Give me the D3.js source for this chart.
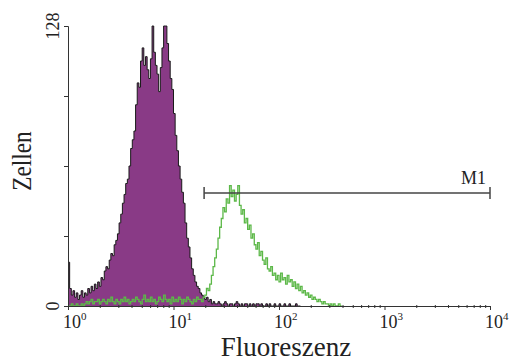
<!DOCTYPE html>
<html>
<head>
<meta charset="utf-8">
<script src="https://cdn.jsdelivr.net/npm/d3@7"></script>
<style>
body { margin: 0; background: #fff; }
text { font-family: "Liberation Serif", "Times New Roman", serif; fill: #222; }
</style>
</head>
<body>
<div id="chart"></div>
<script>
var width = 513,
height = 361;

// counts per channel (256 channels over 4 decades)
var purpleCounts = [
	20,8,5,7,4,6,3,5,7,4,
	6,5,8,6,9,7,10,8,11,9,
	13,12,16,18,17,21,24,23,28,30,
	33,38,42,47,51,56,58,64,72,76,
	80,92,102,100,112,118,110,114,108,104,
	113,128,116,110,106,98,109,118,128,128,
	120,112,104,99,88,78,71,64,58,52,
	47,38,31,27,22,17,14,11,9,8,
	6,5,4,3,4,2,3,1,2,1,
	1,2,1,0,1,2,1,0,1,1,
	0,1,2,1,0,1,0,1,1,0,
	1,0,1,0,1,1,0,1,0,0,
	1,0,1,0,0,1,0,0,1,0,
	0,1,0,0,1,0,0,0,1,0,0
];

var greenCounts = [
	0,0,1,0,0,1,0,0,1,0,
	1,2,1,2,3,1,2,2,3,1,
	2,3,2,1,3,2,4,2,1,3,
	2,1,3,2,4,2,3,1,2,3,
	2,4,3,2,1,3,5,2,3,2,
	4,2,3,1,2,4,3,2,5,3,
	2,3,1,4,2,3,2,4,3,1,
	3,2,4,3,2,1,3,2,4,3,
	3,2,4,5,8,7,10,14,18,22,
	26,31,36,40,45,43,49,47,55,50,
	53,48,51,55,46,42,44,38,40,35,
	37,31,33,28,26,29,23,25,21,19,
	22,17,16,18,14,15,12,14,11,15,
	12,13,10,14,11,12,9,11,8,10,
	7,9,6,7,5,6,4,5,3,4,
	3,2,3,2,1,2,1,1,0,1,
	0,1,0,0,1,0
];

var channelsTotal = 256;
var yTicks = [0, 32, 64, 96, 128];
var yLabels = ["0", "128"];
var xDecades = [1, 10, 100, 1000, 10000];
var xExponents = ["0", "1", "2", "3", "4"];
var markerRange = [19.5, 10000];
var markerLabel = "M1";

var svg = d3.select("#chart")
.append("svg")
.attr("width", width)
.attr("height", height);

var xScale = d3.scaleLog()
.domain([1, 10000])
.range([68, 490]);

var yScale = d3.scaleLinear()
.domain([0, 128])
.range([306, 26]);

// channel number -> fluorescence value
var chanScale = d3.scaleLinear()
.domain([0, channelsTotal])
.range([0, 4]);

function chanValue(c) {
	return Math.pow(10, chanScale(c));
}

function toPoints(counts) {
	var pts = counts.map(function(v, i) { return { c: i, v: v }; });
	pts.push({ c: counts.length, v: counts[counts.length - 1] });
	return pts;
}

var purplePts = toPoints(purpleCounts);
var greenPts = toPoints(greenCounts);

var area = d3.area()
.curve(d3.curveStepAfter)
.x(function(d) { return xScale(chanValue(d.c)); })
.y0(yScale(0))
.y1(function(d) { return yScale(d.v); });

var line = d3.line()
.curve(d3.curveStepAfter)
.x(function(d) { return xScale(chanValue(d.c)); })
.y(function(d) { return yScale(d.v); });

svg.append("path")
.datum(purplePts)
.attr("d", area)
.attr("fill", "#893a86");

svg.append("path")
.datum(purplePts)
.attr("d", line)
.attr("fill", "none")
.attr("stroke", "#1a1a1a")
.attr("stroke-width", 1);

svg.append("path")
.datum(greenPts)
.attr("d", line)
.attr("fill", "none")
.attr("stroke", "#5cb848")
.attr("stroke-width", 1.3);

// y axis
var yAxis = d3.axisLeft(yScale)
.tickValues(yTicks)
.tickSize(4)
.tickFormat("");

svg.append("g")
.attr("transform", "translate(68,0)")
.call(yAxis)
.call(function(g) { g.selectAll("path, line").attr("stroke", "#333"); });

svg.selectAll(".ylab")
.data(yLabels)
.enter()
.append("text")
.attr("class", "ylab")
.attr("transform", function(d) {
	return "translate(59," + yScale(+d) + ") rotate(-90)";
})
.attr("text-anchor", "middle")
.attr("font-size", "18px")
.text(function(d) { return d; });

// x axis: minor ticks then decades
var minorTicks = [];
xDecades.slice(0, -1).forEach(function(d) {
	for (var k = 2; k < 10; k++) minorTicks.push(d * k);
});

svg.append("g")
.attr("transform", "translate(0,306)")
.call(d3.axisBottom(xScale).tickValues(xDecades).tickSize(4).tickFormat(""))
.call(function(g) { g.selectAll("path, line").attr("stroke", "#333"); });

svg.append("g")
.attr("transform", "translate(0,306)")
.call(d3.axisBottom(xScale).tickValues(minorTicks).tickSize(2).tickFormat(""))
.call(function(g) {
	g.select(".domain").remove();
	g.selectAll("line").attr("stroke", "#333").attr("y1", -1);
});

var xlab = svg.selectAll(".xlab")
.data(xDecades)
.enter()
.append("text")
.attr("class", "xlab")
.attr("x", function(d) { return xScale(d) - 5; })
.attr("y", 328)
.attr("font-size", "18px");

xlab.append("tspan").text("10");
xlab.append("tspan")
.attr("dy", -8)
.attr("font-size", "11px")
.text(function(d, i) { return xExponents[i]; });

// marker M1
var my = 193;
svg.append("line")
.attr("x1", xScale(markerRange[0]))
.attr("x2", xScale(markerRange[1]))
.attr("y1", my)
.attr("y2", my)
.attr("stroke", "#444")
.attr("stroke-width", 1.5);

svg.selectAll(".cap")
.data(markerRange)
.enter()
.append("line")
.attr("class", "cap")
.attr("x1", function(d) { return xScale(d); })
.attr("x2", function(d) { return xScale(d); })
.attr("y1", my - 6)
.attr("y2", my + 6)
.attr("stroke", "#444")
.attr("stroke-width", 1.5);

svg.append("text")
.attr("x", xScale(markerRange[1]) - 4)
.attr("y", 184)
.attr("text-anchor", "end")
.attr("font-size", "18px")
.text(markerLabel);

// axis titles
svg.append("text")
.attr("transform", "translate(31,161) rotate(-90) scale(0.86,1)")
.attr("text-anchor", "middle")
.attr("font-size", "27px")
.text("Zellen");

svg.append("text")
.attr("x", 286)
.attr("y", 356)
.attr("text-anchor", "middle")
.attr("font-size", "27px")
.text("Fluoreszenz");
</script>
</body>
</html>
